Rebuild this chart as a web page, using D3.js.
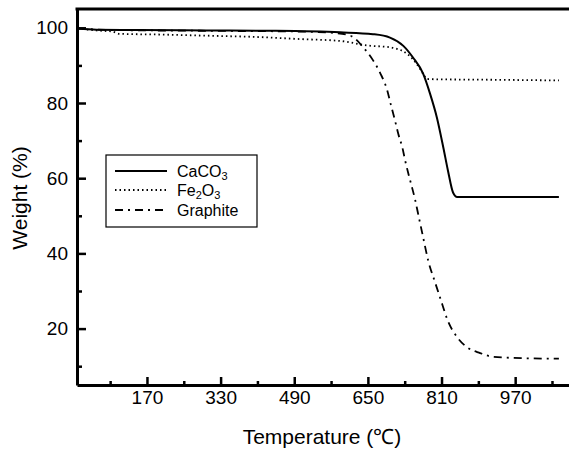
<!DOCTYPE html>
<html>
<head>
<meta charset="utf-8">
<script src="https://cdn.jsdelivr.net/npm/d3@7"></script>
<style>
  body { margin: 0; background: #fff; }
  text { font-family: "Liberation Sans", Arial, sans-serif; fill: #000; }
</style>
</head>
<body>
<div id="chart"></div>
<script>
// data (temperature in C, weight in %)
var caco3T = [20, 60, 150, 300, 450, 590, 661, 698, 727, 748, 770, 785, 800, 814, 824, 835, 844, 860, 950, 1065]
var caco3W = [99.8, 99.5, 99.4, 99.3, 99.2, 98.8, 98.3, 97.4, 95.2, 92.1, 87.8, 82.5, 76.1, 68.1, 62.0, 56.2, 55.0, 55.0, 55.0, 55.0]

var fe2o3T = [20, 60, 95, 110, 200, 300, 420, 503, 590, 649, 698, 735, 756, 770, 778, 800, 900, 1065]
var fe2o3W = [99.8, 99.3, 99.0, 98.4, 98.2, 97.9, 97.5, 97.0, 96.5, 95.3, 94.8, 93.1, 90.4, 87.8, 86.4, 86.3, 86.2, 86.0]

var graphT = [20, 100, 300, 500, 580, 612, 640, 662, 677, 692, 700, 709, 716, 725, 731, 738, 746, 753, 759, 770, 781, 796, 811, 822, 844, 866, 894, 922, 996, 1065]
var graphW = [99.8, 99.4, 99.2, 99.0, 98.6, 97.9, 94.8, 91.2, 87.9, 83.4, 79.5, 75.3, 71.8, 68.1, 64.7, 61.2, 57.5, 54.1, 50.6, 44.3, 38.1, 32.3, 26.7, 22.6, 17.7, 15.0, 13.5, 12.5, 12.1, 12.0]

var xTicks = [170, 330, 490, 650, 810, 970]
var xMinor = [90, 250, 410, 570, 730, 890, 1050]
var yTicks = [20, 40, 60, 80, 100]
var yMinor = [10, 30, 50, 70, 90]

var W = 569, H = 453
var pLeft = 77, pTop = 9, pRight = 575, pBottom = 385

var svg = d3.select("#chart").append("svg")
    .attr("width", W)
    .attr("height", H)

var x = d3.scaleLinear().domain([18, 1100]).range([pLeft, pRight])
var y = d3.scaleLinear().domain([5, 105]).range([pBottom, pTop])

// frame (right side falls off the picture)
svg.append("line")
    .attr("x1", pLeft - 1.5).attr("y1", pTop)
    .attr("x2", pRight).attr("y2", pTop)
    .style("stroke", "black").style("stroke-width", 3)
svg.append("line")
    .attr("x1", pRight).attr("y1", pTop)
    .attr("x2", pRight).attr("y2", pBottom)
    .style("stroke", "black").style("stroke-width", 3)

// minor ticks
svg.append("g")
    .attr("transform", "translate(0," + pBottom + ")")
    .call(d3.axisBottom(x).tickValues(xMinor).tickSize(-4).tickFormat(""))
    .call(g => g.select(".domain").remove())
    .selectAll("line").style("stroke-width", 2.5)
svg.append("g")
    .attr("transform", "translate(" + pLeft + ",0)")
    .call(d3.axisLeft(y).tickValues(yMinor).tickSize(-5).tickFormat(""))
    .call(g => g.select(".domain").remove())
    .selectAll("line").style("stroke-width", 2.5)

// major axes
var xAxis = svg.append("g")
    .attr("transform", "translate(0," + pBottom + ")")
    .call(d3.axisBottom(x).tickValues(xTicks).tickSize(-8).tickSizeOuter(0).tickPadding(6))
xAxis.select(".domain").style("stroke-width", 3)
xAxis.selectAll(".tick line").style("stroke-width", 2.5)
xAxis.selectAll("text").style("font-size", "19px").attr("font-family", "Liberation Sans, Arial, sans-serif")

var yAxis = svg.append("g")
    .attr("transform", "translate(" + pLeft + ",0)")
    .call(d3.axisLeft(y).tickValues(yTicks).tickSize(-9).tickSizeOuter(0).tickPadding(9))
yAxis.select(".domain").style("stroke-width", 3)
yAxis.selectAll(".tick line").style("stroke-width", 2.5)
yAxis.selectAll("text").style("font-size", "19px").attr("font-family", "Liberation Sans, Arial, sans-serif")

// axis titles
svg.append("text")
    .attr("x", 322).attr("y", 444)
    .attr("text-anchor", "middle")
    .style("font-size", "21px")
    .text("Temperature (℃)")

svg.append("text")
    .attr("transform", "translate(27,198) rotate(-90)")
    .attr("text-anchor", "middle")
    .style("font-size", "21px")
    .text("Weight (%)")

// curves
var line = d3.line()
    .x(d => x(d[0]))
    .y(d => y(d[1]))
    .curve(d3.curveMonotoneX)

var series = [
    { name: "CaCO", sub: "3", T: caco3T, W: caco3W, dash: null, width: 2 },
    { name: "Fe", sub: "2", tail: "O", sub2: "3", T: fe2o3T, W: fe2o3W, dash: "1.5,3", width: 1.8 },
    { name: "Graphite", T: graphT, W: graphW, dash: "8,5,2,5", width: 1.8 }
]

series.forEach(s => {
    svg.append("path")
        .datum(s.T.map((t, i) => [t, s.W[i]]))
        .attr("d", line)
        .style("fill", "none")
        .style("stroke", "black")
        .style("stroke-width", s.width)
        .style("stroke-dasharray", s.dash)
})

// legend
svg.append("rect")
    .attr("x", 106).attr("y", 155)
    .attr("width", 151).attr("height", 72)
    .style("fill", "white")
    .style("stroke", "black")
    .style("stroke-width", 1.2)

var rows = [171, 190, 210]
series.forEach((s, i) => {
    svg.append("line")
        .attr("x1", 115).attr("y1", rows[i])
        .attr("x2", 167).attr("y2", rows[i])
        .style("stroke", "black")
        .style("stroke-width", s.width)
        .style("stroke-dasharray", s.dash)

    var t = svg.append("text")
        .attr("x", 177).attr("y", rows[i] + 6)
        .style("font-size", "16px")
    t.append("tspan").text(s.name)
    if (s.sub) {
        t.append("tspan").attr("dy", 3).style("font-size", "11px").text(s.sub)
    }
    if (s.tail) {
        t.append("tspan").attr("dy", -3).text(s.tail)
        t.append("tspan").attr("dy", 3).style("font-size", "11px").text(s.sub2)
    }
})
</script>
</body>
</html>
